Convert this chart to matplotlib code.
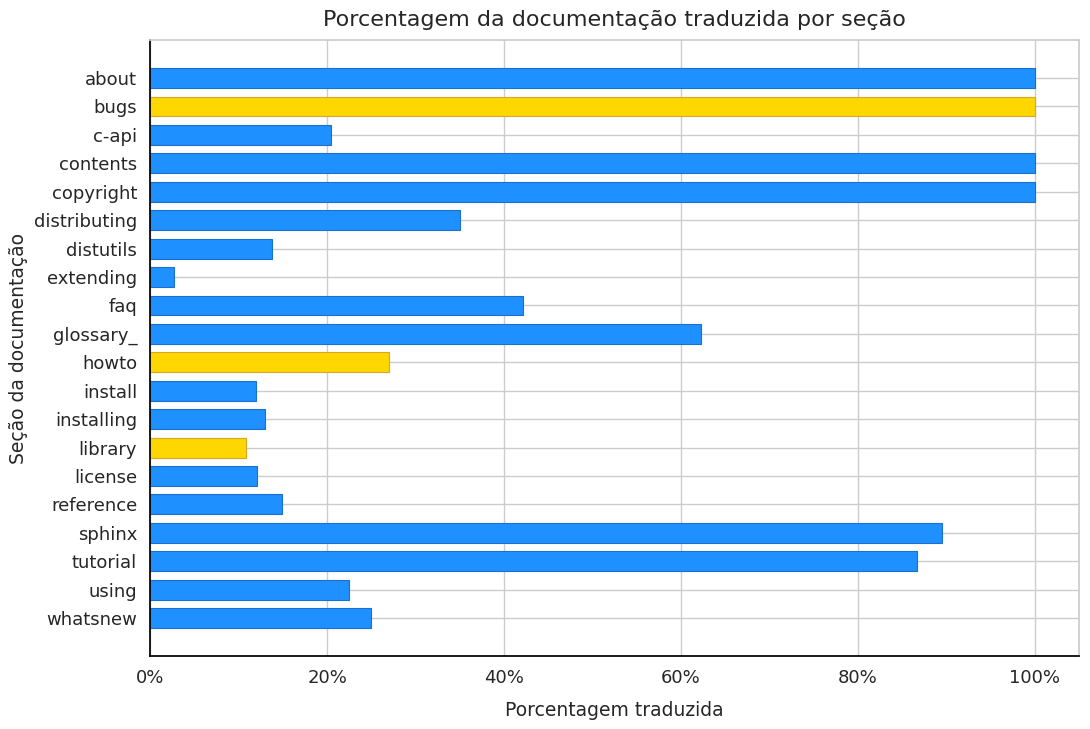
import matplotlib
matplotlib.use("Agg")
import matplotlib.pyplot as plt
import seaborn as sns
from matplotlib.ticker import PercentFormatter

sections = ["about","bugs","c-api","contents","copyright","distributing","distutils",
            "extending","faq","glossary_","howto","install","installing","library",
            "license","reference","sphinx","tutorial","using","whatsnew"]
values = [100,100,20.4,100,100,35.0,13.8,2.7,42.1,62.3,27.0,11.9,13.0,10.8,12.1,14.9,89.5,86.7,22.5,24.9]
highlight = ["bugs","howto","library"]

sns.set_theme(style="whitegrid")
plt.rcParams['font.family'] = ['DejaVu Sans']

fig, ax = plt.subplots(figsize=(10.9, 7.29), dpi=100)
colors = ["#FFD700" if s in highlight else "#1E90FF" for s in sections]
edges = ["#DAA520" if s in highlight else "#1C6FCF" for s in sections]
ax.barh(sections, values, color=colors, edgecolor=edges, linewidth=0.8, height=0.7)
ax.invert_yaxis()
ax.set_xlim(0, 105)
ax.xaxis.set_major_formatter(PercentFormatter(decimals=0))
ax.set_xticks([0,20,40,60,80,100])
ax.tick_params(labelsize=13)
ax.set_title("Porcentagem da documentação traduzida por seção", fontsize=16, pad=10)
ax.set_xlabel("Porcentagem traduzida", fontsize=13.5, labelpad=10)
ax.set_ylabel("Seção da documentação", fontsize=13.5)
for s in ["left","bottom"]:
    ax.spines[s].set_color("black")
ax.grid(True, axis="both", color="#CCCCCC")
ax.set_axisbelow(True)
plt.subplots_adjust(left=0.138, right=0.99, top=0.945, bottom=0.1)
fig.savefig("out.png", dpi=100)
